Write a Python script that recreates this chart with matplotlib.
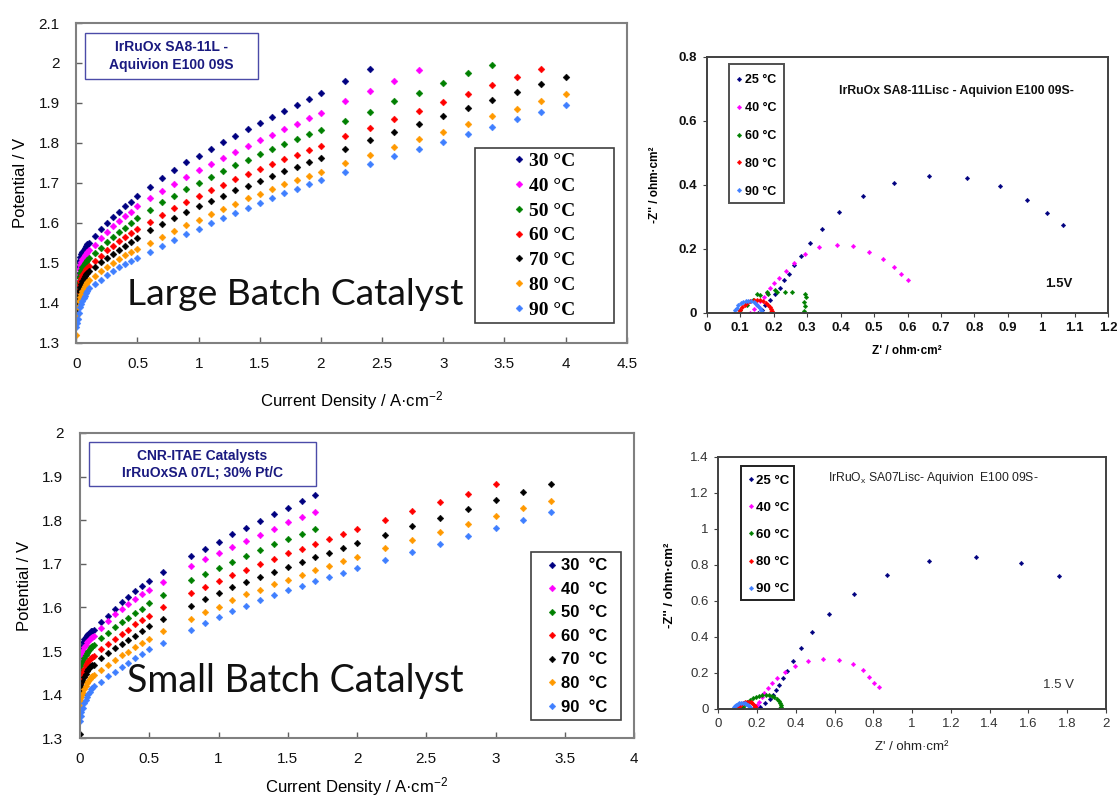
import matplotlib
matplotlib.use("Agg")
import matplotlib.pyplot as plt
from matplotlib.patches import Rectangle
from matplotlib.font_manager import FontProperties
from matplotlib.ticker import FuncFormatter, MultipleLocator

# ---------------- data ----------------
temps_pol = ["30 °C", "40 °C", "50 °C", "60 °C", "70 °C", "80 °C", "90 °C"]
temps_pol_small = ["30  °C", "40  °C", "50  °C", "60  °C", "70  °C", "80  °C", "90  °C"]
temps_eis = ["25 °C", "40 °C", "60 °C", "80 °C", "90 °C"]

# Large batch polarisation curves (current density A/cm2, potential V)
large_j = [0, 0.005, 0.01, 0.02, 0.03, 0.04, 0.05, 0.06, 0.07, 0.08, 0.09,
           0.1, 0.15, 0.2, 0.25, 0.3, 0.35, 0.4, 0.45, 0.5,
           0.6, 0.7, 0.8, 0.9, 1.0, 1.1, 1.2, 1.3, 1.4, 1.5, 1.6, 1.7, 1.8, 1.9, 2.0,
           2.2, 2.4, 2.6, 2.8, 3.0, 3.2, 3.4, 3.6, 3.8, 4.0]
large_30 = [1.45, 1.47, 1.49, 1.505, 1.515, 1.522, 1.528, 1.533, 1.538, 1.542, 1.546,
            1.549, 1.568, 1.584, 1.599, 1.614, 1.628, 1.641, 1.653, 1.666,
            1.689, 1.712, 1.733, 1.751, 1.768, 1.784, 1.801, 1.818, 1.834, 1.851, 1.865, 1.880, 1.895, 1.911, 1.926,
            1.956, 1.985]
large_40 = [1.43, 1.45, 1.47, 1.485, 1.495, 1.503, 1.509, 1.514, 1.519, 1.523, 1.527,
            1.532, 1.545, 1.561, 1.577, 1.591, 1.605, 1.618, 1.628, 1.641,
            1.662, 1.680, 1.697, 1.714, 1.731, 1.747, 1.763, 1.778, 1.793, 1.806, 1.820, 1.834, 1.847, 1.862, 1.876,
            1.904, 1.930, 1.955, 1.982]
large_50 = [1.41, 1.43, 1.45, 1.465, 1.475, 1.483, 1.489, 1.494, 1.499, 1.503, 1.507,
            1.511, 1.525, 1.538, 1.551, 1.564, 1.576, 1.588, 1.600, 1.612,
            1.632, 1.651, 1.668, 1.685, 1.700, 1.715, 1.730, 1.745, 1.758, 1.772, 1.785, 1.797, 1.809, 1.821, 1.832,
            1.856, 1.878, 1.905, 1.926, 1.949, 1.974, 1.995]
large_60 = [1.39, 1.41, 1.43, 1.445, 1.455, 1.463, 1.469, 1.475, 1.480, 1.484, 1.488,
            1.492, 1.505, 1.518, 1.531, 1.543, 1.554, 1.564, 1.574, 1.584,
            1.603, 1.620, 1.637, 1.652, 1.667, 1.681, 1.695, 1.709, 1.722, 1.735, 1.747, 1.759, 1.770, 1.781, 1.793,
            1.816, 1.838, 1.860, 1.881, 1.903, 1.923, 1.944, 1.964, 1.986]
large_70 = [1.38, 1.40, 1.415, 1.43, 1.44, 1.448, 1.455, 1.461, 1.466, 1.471, 1.475,
            1.479, 1.490, 1.501, 1.512, 1.523, 1.533, 1.543, 1.553, 1.563,
            1.581, 1.597, 1.612, 1.627, 1.641, 1.655, 1.668, 1.681, 1.693, 1.705, 1.717, 1.729, 1.740, 1.752, 1.763,
            1.785, 1.806, 1.826, 1.848, 1.868, 1.888, 1.908, 1.927, 1.947, 1.965]
large_80 = [1.32, 1.37, 1.39, 1.405, 1.415, 1.423, 1.430, 1.436, 1.442, 1.447, 1.452,
            1.457, 1.468, 1.479, 1.490, 1.500, 1.510, 1.519, 1.527, 1.534,
            1.549, 1.564, 1.579, 1.594, 1.608, 1.622, 1.635, 1.648, 1.661, 1.673, 1.685, 1.696, 1.707, 1.718, 1.728,
            1.750, 1.770, 1.790, 1.809, 1.828, 1.848, 1.867, 1.885, 1.904, 1.922]
large_90 = [1.34, 1.35, 1.36, 1.375, 1.39, 1.398, 1.405, 1.412, 1.418, 1.424, 1.430,
            1.436, 1.447, 1.458, 1.469, 1.479, 1.489, 1.497, 1.505, 1.512,
            1.528, 1.542, 1.557, 1.571, 1.585, 1.599, 1.612, 1.625, 1.638, 1.650, 1.662, 1.674, 1.685, 1.696, 1.706,
            1.727, 1.746, 1.766, 1.785, 1.803, 1.823, 1.841, 1.860, 1.878, 1.896]

# Small batch polarisation curves
small_j = [0, 0.005, 0.01, 0.02, 0.03, 0.04, 0.05, 0.06, 0.07, 0.08, 0.09,
           0.1, 0.15, 0.2, 0.25, 0.3, 0.35, 0.4, 0.45, 0.5,
           0.6, 0.8, 0.9, 1.0, 1.1, 1.2, 1.3, 1.4, 1.5, 1.6, 1.7, 1.8, 1.9, 2.0,
           2.2, 2.4, 2.6, 2.8, 3.0, 3.2, 3.4]
small_30 = [1.49, 1.50, 1.51, 1.52, 1.527, 1.532, 1.536, 1.539, 1.542, 1.545, 1.547,
            1.549, 1.566, 1.581, 1.597, 1.612, 1.625, 1.637, 1.649, 1.660,
            1.681, 1.718, 1.735, 1.751, 1.768, 1.783, 1.798, 1.814, 1.829, 1.844, 1.858]
small_40 = [1.475, 1.485, 1.495, 1.503, 1.510, 1.515, 1.520, 1.524, 1.527, 1.530, 1.532,
            1.534, 1.552, 1.570, 1.584, 1.597, 1.609, 1.620, 1.631, 1.641,
            1.659, 1.695, 1.711, 1.724, 1.739, 1.752, 1.767, 1.781, 1.795, 1.808, 1.820]
small_50 = [1.445, 1.457, 1.468, 1.478, 1.485, 1.491, 1.496, 1.501, 1.505, 1.509, 1.512,
            1.515, 1.530, 1.541, 1.555, 1.566, 1.576, 1.587, 1.597, 1.611,
            1.628, 1.662, 1.676, 1.691, 1.705, 1.719, 1.732, 1.745, 1.758, 1.769, 1.781]
small_60 = [1.42, 1.43, 1.44, 1.452, 1.460, 1.467, 1.472, 1.477, 1.481, 1.484, 1.486,
            1.488, 1.505, 1.517, 1.528, 1.540, 1.549, 1.561, 1.571, 1.581,
            1.600, 1.633, 1.647, 1.660, 1.675, 1.687, 1.700, 1.712, 1.724, 1.735, 1.746, 1.756, 1.768, 1.779,
            1.800, 1.821, 1.841, 1.861, 1.882]
small_70 = [1.31, 1.41, 1.42, 1.432, 1.441, 1.448, 1.454, 1.459, 1.463, 1.466, 1.468,
            1.469, 1.484, 1.496, 1.507, 1.517, 1.526, 1.535, 1.545, 1.557,
            1.574, 1.604, 1.620, 1.634, 1.647, 1.658, 1.670, 1.682, 1.693, 1.704, 1.716, 1.726, 1.736, 1.747,
            1.767, 1.787, 1.806, 1.826, 1.846, 1.864, 1.882]
small_80 = [1.375, 1.385, 1.395, 1.405, 1.413, 1.420, 1.426, 1.431, 1.436, 1.440, 1.443,
            1.446, 1.457, 1.469, 1.480, 1.490, 1.499, 1.509, 1.519, 1.528,
            1.545, 1.574, 1.589, 1.601, 1.616, 1.630, 1.641, 1.653, 1.664, 1.675, 1.686, 1.696, 1.706, 1.716,
            1.736, 1.755, 1.772, 1.791, 1.810, 1.827, 1.845]
small_90 = [1.34, 1.35, 1.36, 1.37, 1.38, 1.388, 1.395, 1.401, 1.407, 1.412, 1.416,
            1.419, 1.430, 1.442, 1.453, 1.463, 1.473, 1.484, 1.494, 1.505,
            1.519, 1.549, 1.565, 1.578, 1.591, 1.603, 1.617, 1.629, 1.640, 1.650, 1.661, 1.670, 1.680, 1.690,
            1.709, 1.728, 1.746, 1.764, 1.783, 1.800, 1.818]

# EIS, large batch (Z', -Z'')
eisL_25_re = [0.154, 0.164, 0.175, 0.19, 0.204, 0.219, 0.232, 0.246, 0.261, 0.282, 0.309, 0.345,
              0.396, 0.468, 0.561, 0.665, 0.777, 0.876, 0.956, 1.018, 1.066]
eisL_25_im = [0.0, 0.008, 0.024, 0.04, 0.06, 0.076, 0.102, 0.122, 0.148, 0.178, 0.218, 0.2625,
              0.315, 0.365, 0.404, 0.426, 0.422, 0.396, 0.352, 0.3125, 0.274]
eisL_40_re = [0.13, 0.14, 0.15, 0.16, 0.17, 0.18, 0.189, 0.202, 0.217, 0.236, 0.261, 0.294, 0.335,
              0.388, 0.438, 0.486, 0.526, 0.560, 0.580, 0.600]
eisL_40_im = [0.0, 0.012, 0.025, 0.038, 0.05, 0.063, 0.076, 0.092, 0.109, 0.131, 0.156, 0.184, 0.206,
              0.211, 0.208, 0.189, 0.168, 0.144, 0.12, 0.102]
eisL_60_re = [0.10, 0.12, 0.139, 0.149, 0.159, 0.179, 0.184, 0.204, 0.209, 0.234, 0.254,
              0.291, 0.295, 0.291, 0.297, 0.294]
eisL_60_im = [0.008, 0.024, 0.04, 0.06, 0.055, 0.066, 0.06, 0.071, 0.066, 0.066, 0.066,
              0.005, 0.02, 0.035, 0.048, 0.06]
eisL_80_re = [0.095, 0.100, 0.106, 0.113, 0.121, 0.130, 0.140, 0.150, 0.160, 0.169, 0.177, 0.184,
              0.189, 0.192, 0.194, 0.193, 0.190]
eisL_80_im = [0.0, 0.009, 0.018, 0.025, 0.031, 0.036, 0.039, 0.040, 0.039, 0.036, 0.031, 0.025,
              0.018, 0.012, 0.006, 0.002, 0.0]
eisL_90_re = [0.083, 0.086, 0.090, 0.095, 0.101, 0.108, 0.116, 0.124, 0.132, 0.140, 0.147, 0.153,
              0.158, 0.162, 0.165]
eisL_90_im = [0.0, 0.008, 0.016, 0.023, 0.029, 0.033, 0.036, 0.037, 0.036, 0.033, 0.028, 0.022,
              0.015, 0.008, 0.002]

# EIS, small batch
eisS_25_re = [0.198, 0.215, 0.241, 0.267, 0.284, 0.298, 0.315, 0.332, 0.353, 0.383, 0.426, 0.483,
              0.573, 0.698, 0.868, 1.089, 1.329, 1.561, 1.759]
eisS_25_im = [0.0, 0.011, 0.03, 0.052, 0.076, 0.104, 0.131, 0.169, 0.211, 0.267, 0.335, 0.424,
              0.528, 0.639, 0.744, 0.819, 0.841, 0.807, 0.735]
eisS_40_re = [0.18, 0.19, 0.20, 0.21, 0.224, 0.237, 0.258, 0.275, 0.301, 0.344, 0.396, 0.461,
              0.538, 0.623, 0.693, 0.748, 0.779, 0.805, 0.827]
eisS_40_im = [0.0, 0.01, 0.022, 0.039, 0.063, 0.089, 0.113, 0.141, 0.169, 0.202, 0.237, 0.265,
              0.278, 0.270, 0.248, 0.215, 0.174, 0.144, 0.119]
eisS_60_re = [0.115, 0.125, 0.137, 0.15, 0.165, 0.18, 0.196, 0.212, 0.228, 0.244, 0.26, 0.275,
              0.289, 0.301, 0.311, 0.318, 0.322, 0.324, 0.32]
eisS_60_im = [0.0, 0.012, 0.024, 0.036, 0.047, 0.057, 0.065, 0.071, 0.075, 0.076, 0.075, 0.071,
              0.064, 0.055, 0.044, 0.033, 0.022, 0.011, 0.002]
eisS_80_re = [0.10, 0.105, 0.112, 0.12, 0.129, 0.139, 0.149, 0.159, 0.168, 0.176, 0.182, 0.187,
              0.19, 0.192]
eisS_80_im = [0.0, 0.01, 0.019, 0.027, 0.033, 0.037, 0.039, 0.038, 0.035, 0.03, 0.023, 0.016,
              0.008, 0.0]
eisS_90_re = [0.075, 0.079, 0.085, 0.092, 0.1, 0.109, 0.118, 0.127, 0.136, 0.144, 0.151, 0.157,
              0.162, 0.166, 0.17]
eisS_90_im = [0.0, 0.008, 0.016, 0.022, 0.027, 0.031, 0.033, 0.033, 0.031, 0.028, 0.023, 0.017,
              0.011, 0.005, 0.0]

pol_colors = ["#000080", "#FF00FF", "#008000", "#FF0000", "#000000", "#FF9900", "#3F7FFF"]
eis_colors = ["#000080", "#FF00FF", "#008000", "#FF0000", "#3F7FFF"]

# ---------------- figure ----------------
W, H = 1117, 800
fig = plt.figure(figsize=(W / 100, H / 100), dpi=100)
fig.patch.set_facecolor("white")

SANS = ["Liberation Sans", "DejaVu Sans"]
SERIF = ["Liberation Serif", "DejaVu Serif"]
plt.rcParams["mathtext.fontset"] = "custom"
plt.rcParams["mathtext.rm"] = "Liberation Sans"
plt.rcParams["mathtext.it"] = "Liberation Sans:italic"
plt.rcParams["mathtext.bf"] = "Liberation Sans:bold"


def fx(x):
    return x / W


def fy(y):
    return 1 - y / H


def rect(l, t, r, b):
    return [fx(l), fy(b), (r - l) / W, (b - t) / H]


def fmt(v, pos):
    s = f"{v:.2f}".rstrip("0").rstrip(".")
    return "0" if s in ("-0", "") else s


def box(l, t, r, b, ec, lw):
    fig.add_artist(Rectangle((fx(l), fy(b)), (r - l) / W, (b - t) / H,
                             transform=fig.transFigure, fill=False, ec=ec, lw=lw))


def place_legend(ax, handles, labels, mx, my, spacing, fs, family, weight, gap):
    fs_px = fs * 100 / 72
    hl = 0.5
    leg = ax.legend(handles, labels, loc="upper left",
                    bbox_to_anchor=(fx(mx - hl * fs_px / 2), fy(my - 0.34 * fs_px)),
                    bbox_transform=fig.transFigure, frameon=False, borderpad=0,
                    borderaxespad=0, handlelength=hl,
                    handletextpad=(gap - hl * fs_px / 2) / fs_px,
                    labelspacing=spacing / fs_px - 0.91,
                    prop=FontProperties(family=family, weight=weight, size=fs),
                    numpoints=1)
    return leg


# ---------- top-left: large batch polarisation ----------
ax1 = fig.add_axes(rect(76.3, 23, 626.8, 342.7))
large_series = [large_30, large_40, large_50, large_60, large_70, large_80, large_90]
h1 = []
for ys, c in zip(large_series, pol_colors):
    ln, = ax1.plot(large_j[:len(ys)], ys, linestyle="none", marker="D", ms=3.5,
                   mfc=c, mec=c, mew=0.3)
    h1.append(ln)
ax1.set_xlim(0, 4.5)
ax1.set_ylim(1.3, 2.1)
ax1.xaxis.set_major_locator(MultipleLocator(0.5))
ax1.yaxis.set_major_locator(MultipleLocator(0.1))

# ---------- bottom-left: small batch polarisation ----------
ax3 = fig.add_axes(rect(80, 433, 634, 738.3))
small_series = [small_30, small_40, small_50, small_60, small_70, small_80, small_90]
h3 = []
for ys, c in zip(small_series, pol_colors):
    ln, = ax3.plot(small_j[:len(ys)], ys, linestyle="none", marker="D", ms=3.4,
                   mfc=c, mec=c, mew=0.3)
    h3.append(ln)
ax3.set_xlim(0, 4)
ax3.set_ylim(1.3, 2.0)
ax3.xaxis.set_major_locator(MultipleLocator(0.5))
ax3.yaxis.set_major_locator(MultipleLocator(0.1))

for ax in (ax1, ax3):
    for sp in ax.spines.values():
        sp.set_color("#808080")
        sp.set_linewidth(1.5)
    ax.tick_params(direction="in", length=4.5, width=1, color="#606060",
                   labelsize=11, pad=12, labelcolor="#111111")
    ax.xaxis.set_major_formatter(FuncFormatter(fmt))
    ax.yaxis.set_major_formatter(FuncFormatter(fmt))
    for lab in ax.get_xticklabels() + ax.get_yticklabels():
        lab.set_family(SANS)
ax1.tick_params(axis="x", pad=10)
ax3.tick_params(axis="x", pad=10)

ax1.set_ylabel("Potential / V", fontsize=12, family=SANS)
ax1.yaxis.set_label_coords((28 - 76.3) / 550.5, 0.5)
ax1.set_xlabel(r"Current Density / A·cm$^{\mathregular{-2}}$", fontsize=12, family=SANS)
ax1.xaxis.set_label_coords(0.5, -(389 - 342.7) / 319.7)
ax3.set_ylabel("Potential / V", fontsize=12, family=SANS)
ax3.yaxis.set_label_coords((32 - 80) / 554, 0.5)
ax3.set_xlabel(r"Current Density / A·cm$^{\mathregular{-2}}$", fontsize=12, family=SANS)
ax3.xaxis.set_label_coords(0.5, -(775 - 738.3) / 305.3)

# legends
box(475, 148, 614, 323, "#404040", 1.2)
place_legend(ax1, h1, temps_pol, 519, 159, 24.9, 14, SERIF, "bold", 10)
box(531, 552, 621, 720, "#404040", 1.2)
place_legend(ax3, h3, temps_pol_small, 552, 564, 23.7, 12, SANS, "bold", 9)

# annotation boxes
box(85, 33, 258, 79, "#4B4BA8", 1.0)
fig.text(fx(171.5), fy(56), "IrRuOx SA8-11L -\nAquivion E100 09S", ha="center", va="center",
         fontsize=10, fontweight="bold", color="#1A1A80", family=SANS, linespacing=1.3)
box(89, 442, 316, 486, "#4B4BA8", 1.0)
fig.text(fx(202.5), fy(464.5), "CNR-ITAE Catalysts\nIrRuOxSA 07L; 30% Pt/C", ha="center",
         va="center", fontsize=10, fontweight="bold", color="#1A1A80", family=SANS,
         linespacing=1.2)

# big labels
renderer = fig.canvas.get_renderer()
for txt, base in (("Large Batch Catalyst", 305), ("Small Batch Catalyst", 691.7)):
    t = fig.text(fx(127), fy(base), txt, ha="left", va="baseline", fontsize=26,
                 family=["Lato", "DejaVu Sans"], color="#111111")
    bb = t.get_window_extent(renderer=renderer)
    t.set_fontsize(26 * 336 / bb.width)

# ---------- top-right: EIS large ----------
ax2 = fig.add_axes(rect(706.7, 56.7, 1108.3, 312.7))
eisL = [(eisL_25_re, eisL_25_im), (eisL_40_re, eisL_40_im), (eisL_60_re, eisL_60_im),
        (eisL_80_re, eisL_80_im), (eisL_90_re, eisL_90_im)]
h2 = []
for (xr, yi), c in zip(eisL, eis_colors):
    ln, = ax2.plot(xr, yi, linestyle="none", marker="D", ms=2.3, mfc=c, mec=c, mew=0.3)
    h2.append(ln)
ax2.set_xlim(0, 1.2)
ax2.set_ylim(0, 0.8)
ax2.xaxis.set_major_locator(MultipleLocator(0.1))
ax2.yaxis.set_major_locator(MultipleLocator(0.2))

# ---------- bottom-right: EIS small ----------
ax4 = fig.add_axes(rect(718.3, 456.7, 1106, 708.7))
eisS = [(eisS_25_re, eisS_25_im), (eisS_40_re, eisS_40_im), (eisS_60_re, eisS_60_im),
        (eisS_80_re, eisS_80_im), (eisS_90_re, eisS_90_im)]
h4 = []
for (xr, yi), c in zip(eisS, eis_colors):
    ln, = ax4.plot(xr, yi, linestyle="none", marker="D", ms=2.3, mfc=c, mec=c, mew=0.3)
    h4.append(ln)
ax4.set_xlim(0, 2)
ax4.set_ylim(0, 1.4)
ax4.xaxis.set_major_locator(MultipleLocator(0.2))
ax4.yaxis.set_major_locator(MultipleLocator(0.2))

for ax, weight, col in ((ax2, "bold", "#111111"), (ax4, "normal", "#333333")):
    for sp in ax.spines.values():
        sp.set_color("#404040")
        sp.set_linewidth(1.4)
    ax.tick_params(direction="out", length=3, width=0.8, color="#404040",
                   labelsize=9.5, pad=4, labelcolor=col)
    ax.xaxis.set_major_formatter(FuncFormatter(fmt))
    ax.yaxis.set_major_formatter(FuncFormatter(fmt))
    for lab in ax.get_xticklabels() + ax.get_yticklabels():
        lab.set_family(SANS)
        lab.set_fontweight(weight)

ax2.set_ylabel("-Z'' / ohm·cm²", fontsize=8.5, fontweight="bold", family=SANS)
ax2.yaxis.set_label_coords((660.7 - 706.7) / 401.6, 0.5)
ax2.set_xlabel("Z' / ohm·cm²", fontsize=8.5, fontweight="bold", family=SANS)
ax2.xaxis.set_label_coords((906.7 - 706.7) / 401.6, -(345.3 - 312.7) / 256)
ax4.set_ylabel("-Z'' / ohm·cm²", fontsize=9.5, fontweight="bold", family=SANS)
ax4.yaxis.set_label_coords((675.7 - 718.3) / 387.7, (708.7 - 585) / 252)
ax4.set_xlabel("Z' / ohm·cm²", fontsize=9.5, family=SANS, color="#222222")
ax4.xaxis.set_label_coords((911.7 - 718.3) / 387.7, -(741 - 708.7) / 252)

box(729.3, 64.3, 784.3, 202.7, "#505050", 1.4)
place_legend(ax2, h2, temps_eis, 739, 78.3, 27.3, 9, SANS, "bold", 6)
box(740.7, 465.7, 794.3, 600, "#202020", 1.4)
place_legend(ax4, h4, temps_eis, 750.7, 479, 26.9, 9.5, SANS, "bold", 5.5)

t = fig.text(fx(839), fy(91), "IrRuOx SA8-11Lisc - Aquivion E100 09S-", ha="left", va="center",
             fontsize=8, fontweight="bold", family=SANS, color="#111111")
bb = t.get_window_extent(renderer=renderer)
t.set_fontsize(8 * 234 / bb.width)
fig.text(fx(1045), fy(284), "1.5V", ha="left", va="center", fontsize=9.5, fontweight="bold",
         family=SANS, color="#111111")
t = fig.text(fx(828), fy(478), r"IrRuO$_{\mathregular{x}}$ SA07Lisc- Aquivion  E100 09S-", ha="left",
             va="center", fontsize=8.5, family=SANS, color="#222222")
bb = t.get_window_extent(renderer=renderer)
t.set_fontsize(8.5 * 209 / bb.width)
fig.text(fx(1043), fy(685), "1.5 V", ha="left", va="center", fontsize=9.5, family=SANS,
         color="#333333")

fig.savefig("out.png", dpi=100, facecolor="white")
